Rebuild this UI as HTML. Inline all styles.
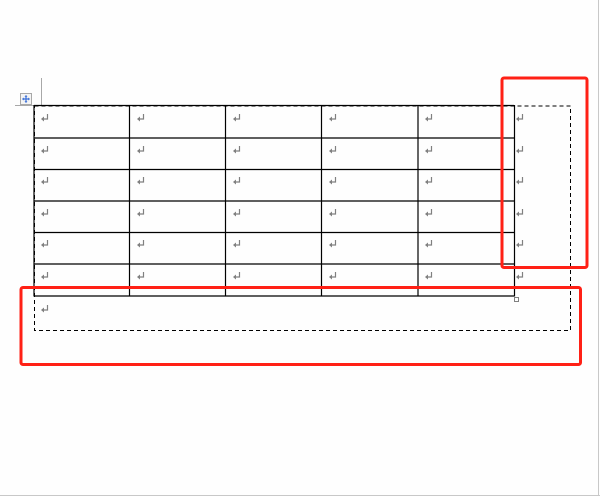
<!DOCTYPE html>
<html><head><meta charset="utf-8"><style>html,body{margin:0;padding:0;background:#fff}svg{display:block}</style></head>
<body>
<svg width="600" height="496" viewBox="0 0 600 496" xmlns="http://www.w3.org/2000/svg">
<defs>
<g id="r"><path d="M6.5 0 V5 H1.5" fill="none" stroke="#808080" stroke-width="1.2"/><path d="M0 5 L3 2.5 L3 7.5 Z" fill="#808080"/></g>
</defs>
<rect x="0" y="0" width="600" height="496" fill="#fefefe"/>
<line x1="598.5" y1="0" x2="598.5" y2="496" stroke="#c8c8c8"/>
<line x1="0" y1="495.5" x2="600" y2="495.5" stroke="#c8c8c8"/>
<!-- corner guides -->
<line x1="41.5" y1="78" x2="41.5" y2="105" stroke="#a8a8a8"/>
<line x1="15" y1="105.5" x2="41" y2="105.5" stroke="#a8a8a8"/>
<rect x="20.5" y="93.5" width="11" height="11" fill="#f4f4f4" stroke="#a8a8a8"/>
<path d="M26 95.5 V102.5 M22.5 99 H29.5" stroke="#3a6fd8" stroke-width="1.2"/>
<path d="M26 95 l-1.5 1.8 h3 Z M26 103 l-1.5 -1.8 h3 Z M22 99 l1.8 -1.5 v3 Z M30 99 l-1.8 -1.5 v3 Z" fill="#3a6fd8"/>
<!-- dashed frame -->
<rect x="34.5" y="106" width="536" height="224.5" fill="none" stroke="#000" stroke-dasharray="4,3"/>
<!-- table -->
<g stroke="#000" stroke-width="1.2" fill="none">
<line x1="34" y1="105.5" x2="514" y2="105.5"/>
<line x1="34" y1="138" x2="514" y2="138"/>
<line x1="34" y1="169.5" x2="514" y2="169.5"/>
<line x1="34" y1="201" x2="514" y2="201"/>
<line x1="34" y1="232.5" x2="514" y2="232.5"/>
<line x1="34" y1="264" x2="514" y2="264"/>
<line x1="34" y1="296" x2="514" y2="296"/>
<line x1="34" y1="105" x2="34" y2="296.5"/>
<line x1="129.5" y1="105" x2="129.5" y2="296.5"/>
<line x1="225.5" y1="105" x2="225.5" y2="296.5"/>
<line x1="321.5" y1="105" x2="321.5" y2="296.5"/>
<line x1="418" y1="105" x2="418" y2="296.5"/>
<line x1="514.5" y1="105" x2="514.5" y2="296.5"/>
</g>
<rect x="514.5" y="297.5" width="4" height="4" fill="#fff" stroke="#808080"/>
<!-- return marks -->
<g>
<use href="#r" x="41" y="114"/><use href="#r" x="137" y="114"/><use href="#r" x="233" y="114"/><use href="#r" x="329" y="114"/><use href="#r" x="425" y="114"/><use href="#r" x="516" y="114"/>
<use href="#r" x="41" y="146"/><use href="#r" x="137" y="146"/><use href="#r" x="233" y="146"/><use href="#r" x="329" y="146"/><use href="#r" x="425" y="146"/><use href="#r" x="516" y="146"/>
<use href="#r" x="41" y="177"/><use href="#r" x="137" y="177"/><use href="#r" x="233" y="177"/><use href="#r" x="329" y="177"/><use href="#r" x="425" y="177"/><use href="#r" x="516" y="177"/>
<use href="#r" x="41" y="209"/><use href="#r" x="137" y="209"/><use href="#r" x="233" y="209"/><use href="#r" x="329" y="209"/><use href="#r" x="425" y="209"/><use href="#r" x="516" y="209"/>
<use href="#r" x="41" y="240"/><use href="#r" x="137" y="240"/><use href="#r" x="233" y="240"/><use href="#r" x="329" y="240"/><use href="#r" x="425" y="240"/><use href="#r" x="516" y="240"/>
<use href="#r" x="41" y="272"/><use href="#r" x="137" y="272"/><use href="#r" x="233" y="272"/><use href="#r" x="329" y="272"/><use href="#r" x="425" y="272"/><use href="#r" x="516" y="272"/>
<use href="#r" x="41" y="305"/>
</g>
<!-- red highlight boxes -->
<rect x="502" y="78" width="85" height="189.5" rx="2" fill="none" stroke="#ff2015" stroke-width="3"/>
<rect x="21" y="287.5" width="559.5" height="77" rx="2" fill="none" stroke="#ff2015" stroke-width="3"/>
</svg>
</body></html>
